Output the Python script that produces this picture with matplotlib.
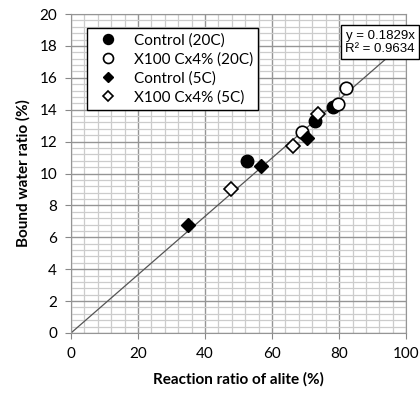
import numpy as np
import matplotlib.pyplot as plt
from matplotlib.ticker import MultipleLocator

plt.rcParams['font.family'] = ['Lato', 'DejaVu Sans']

# reaction ratio of alite (%) vs bound water ratio (%)
ctrl20_x = [52.5, 72.8, 78.3]
ctrl20_y = [10.8, 13.3, 14.15]
x100_20_x = [68.9, 79.7, 82.1]
x100_20_y = [12.6, 14.35, 15.35]
ctrl5_x = [35.0, 56.7, 70.5]
ctrl5_y = [6.75, 10.45, 12.2]
x100_5_x = [47.7, 66.1, 73.8]
x100_5_y = [9.05, 11.7, 13.7]

slope = 0.1829
r2 = 0.9634

fig = plt.figure(figsize=(4.2, 4.0), dpi=100)
ax = fig.add_axes([0.169, 0.1675, 0.798, 0.7975])

ax.set_xlim(0, 100)
ax.set_ylim(0, 20)
ax.xaxis.set_major_locator(MultipleLocator(20))
ax.xaxis.set_minor_locator(MultipleLocator(4))
ax.yaxis.set_major_locator(MultipleLocator(2))
ax.yaxis.set_minor_locator(MultipleLocator(0.4))
ax.grid(which='minor', color='#cccccc', lw=0.9)
ax.grid(which='major', color='#959595', lw=1.0)
ax.set_axisbelow(True)
for s in ax.spines.values():
    s.set_color('#959595')
ax.tick_params(which='minor', length=0)
ax.tick_params(which='major', length=4, color='#888888', labelsize=11, pad=6)

# linear fit through origin
xf = np.array([0, 100])
ax.plot(xf, slope * xf, color='#555555', lw=0.9, zorder=2)

ax.plot(ctrl20_x, ctrl20_y, 'o', ms=9, mfc='black', mec='black', mew=1, ls='none', label='Control (20C)', zorder=3)
ax.plot(x100_20_x, x100_20_y, 'o', ms=9, mfc='white', mec='black', mew=1.2, ls='none', label='X100 Cx4% (20C)', zorder=3)
ax.plot(ctrl5_x, ctrl5_y, 'D', ms=7, mfc='black', mec='black', mew=1, ls='none', label='Control (5C)', zorder=3)
ax.plot(x100_5_x, x100_5_y, 'D', ms=7, mfc='white', mec='black', mew=1.2, ls='none', label='X100 Cx4% (5C)', zorder=3)

leg = ax.legend(loc='upper left', bbox_to_anchor=(0.025, 0.98), fontsize=11,
                fancybox=False, edgecolor='black', framealpha=1,
                handletextpad=0.7, labelspacing=0.3, borderpad=0.35, markerscale=0.8)
leg.get_frame().set_linewidth(1)

fig.text(0.905, 0.894, 'y = %.4fx\nR\u00b2 = %.4f' % (slope, r2), family='Liberation Sans', fontsize=9.5,
         va='center', ha='center', linespacing=1.1,
         bbox=dict(boxstyle='square,pad=0.35', fc='white', ec='black', lw=1))

ax.set_xlabel('Reaction ratio of alite (%)', fontsize=11, fontweight='bold', labelpad=8)
ax.set_ylabel('Bound water ratio (%)', fontsize=11, fontweight='bold', labelpad=6)

fig.savefig('out.png', dpi=100)
